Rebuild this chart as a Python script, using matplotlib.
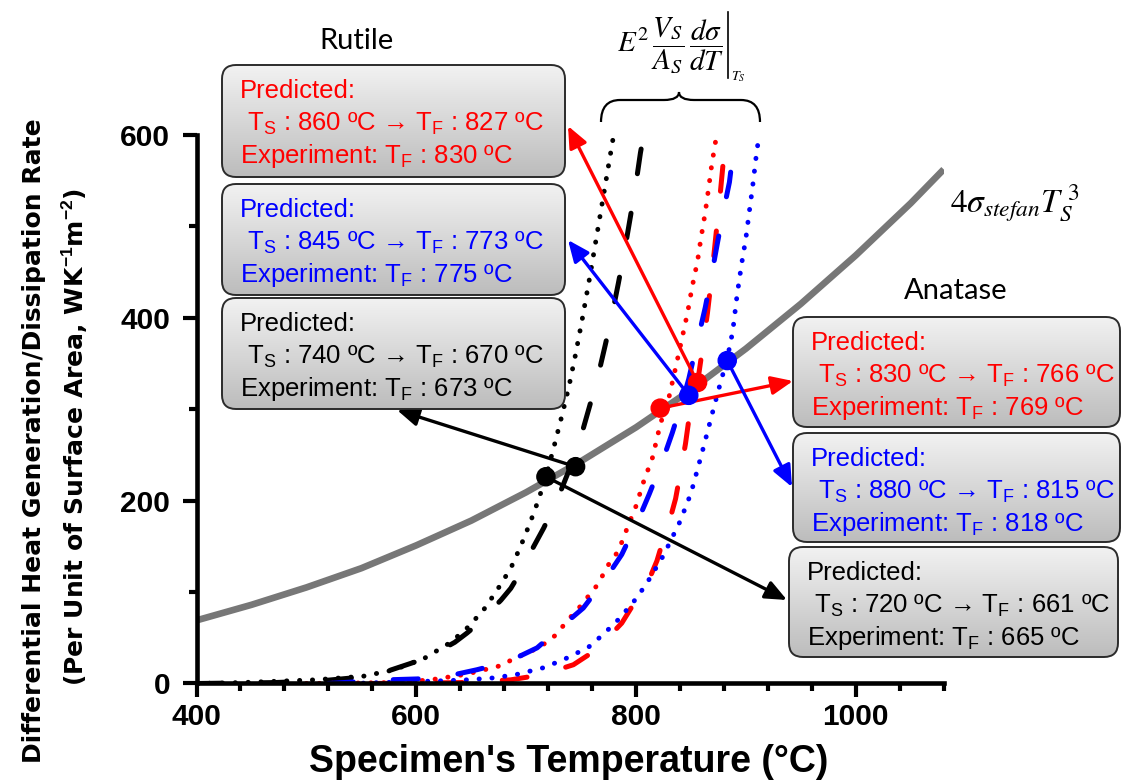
import matplotlib
matplotlib.use('Agg')
import matplotlib.pyplot as plt
import numpy as np
from matplotlib.patches import FancyBboxPatch, PathPatch
from matplotlib.path import Path
from matplotlib.colors import LinearSegmentedColormap
from matplotlib.ticker import MultipleLocator

plt.rcParams['font.family'] = ['Liberation Sans', 'DejaVu Sans']
plt.rcParams['mathtext.fontset'] = 'custom'
plt.rcParams['mathtext.rm'] = 'Liberation Sans'
plt.rcParams['mathtext.it'] = 'Liberation Sans:italic'
plt.rcParams['mathtext.bf'] = 'Liberation Sans:bold'

# ---- data ----
grey_x = [400, 450, 500, 550, 600, 650, 700, 750, 800, 850, 900, 950, 1000, 1050, 1080]
grey_y = [69, 86, 105, 126, 151, 178, 209, 243, 280, 321, 366, 415, 468, 525, 562]

# anatase = dotted, rutile = dashed
blk_dot_x = [400, 440, 508, 552, 580, 608, 630, 645, 661, 673, 686, 695, 704, 711, 718,
             726, 733, 739, 745, 751, 758, 765, 772, 779, 780]
blk_dot_y = [0, 1, 4, 8, 15, 28, 44, 59, 80, 101, 126, 150, 177, 200, 226,
             262, 295, 325, 360, 398, 445, 495, 545, 595, 600]

blk_dash_x = [400, 470, 514, 550, 575, 600, 617, 635, 646, 657, 667, 677, 686, 694, 702,
              716, 728, 739, 748, 757, 765, 772, 778, 784, 790, 795, 800, 804, 807]
blk_dash_y = [0, 1, 3, 7, 14, 24, 33, 45, 55, 66, 79, 91, 104, 120, 139,
              170, 200, 233, 262, 300, 334, 370, 402, 438, 476, 511, 547, 580, 600]

red_dot_x = [500, 580, 613, 645, 667, 680, 689, 701, 715, 727, 737, 749, 765, 775, 784, 792,
             800, 807, 815, 822, 830, 836, 842, 847, 851, 856, 859, 863, 866, 869, 873, 874]
red_dot_y = [0, 1, 4, 10, 16.5, 20.5, 28, 33, 42, 53, 68, 84, 108, 130, 145, 170,
             194, 221, 247, 283, 313, 345, 378, 406, 433, 462, 486, 515, 541, 568, 597, 600]

red_dash_x = [560, 640, 686, 714, 743, 764, 787, 803, 812, 819, 825, 831, 836, 840, 845,
              848, 852, 856, 860, 865, 868, 871, 874, 877, 880, 882]
red_dash_y = [0, 1, 4, 9.5, 20.5, 37, 66, 97, 114, 134, 158, 180, 202, 228, 262,
              288, 305, 329, 362, 405, 436, 470, 505, 540, 578, 600]

blu_dash_x = [520, 573, 601, 634, 655, 684, 710, 731, 752, 772, 787, 801, 812, 824, 833,
              844, 848, 857, 863, 869, 874, 880, 885, 889, 892]
blu_dash_y = [0, 4, 5, 9.5, 15, 24, 39, 61, 82.5, 114, 141, 176, 207, 243, 274,
              316, 333, 380, 411, 448, 481, 519, 548, 587, 600]

blu_dot_x = [540, 625, 646, 669, 690, 715, 734, 743, 756, 763, 781, 797, 809, 825, 840,
             850, 860, 865, 870, 876, 883, 888, 892, 896, 900, 903, 906, 909, 912]
blu_dot_y = [0, 3, 4, 6, 9.5, 17, 26, 31.5, 39, 46, 66, 88, 108, 140, 177,
             208, 252, 275, 298, 325, 355, 385, 425, 458, 487, 515, 542, 573, 600]

# intersection markers (Ts on the radiation curve)
mark_x = [856, 848, 745, 822, 883, 718]
mark_y = [329, 315, 237, 301, 353, 226]
mark_c = ['red', 'blue', 'black', 'red', 'blue', 'black']

box_ts = ['860', '845', '740', '830', '880', '720']
box_tf = ['827', '773', '670', '766', '815', '661']
box_exp = ['830', '775', '673', '769', '818', '665']

fig = plt.figure(figsize=(11.27, 7.84), dpi=100)
ax = fig.add_axes([0.17436, 0.12819, 0.66300, 0.70013])

ax.plot(grey_x, grey_y, color='#777777', lw=4.8, zorder=1.5, solid_capstyle='butt')

dot = dict(lw=3.5, linestyle=(0, (0.05, 2.6)), dash_capstyle='round', zorder=2)
dash = dict(lw=3.6, linestyle=(0, (5, 8)), dash_capstyle='round', zorder=2)
ax.plot(blk_dot_x, blk_dot_y, color='black', **dot)
ax.plot(blk_dash_x, blk_dash_y, color='black', **dash)
ax.plot(red_dot_x, red_dot_y, color='red', **dot)
ax.plot(red_dash_x, red_dash_y, color='red', **dash)
ax.plot(blu_dash_x, blu_dash_y, color='blue', **dash)
ax.plot(blu_dot_x, blu_dot_y, color='blue', **dot)

ax.set_xlim(400, 1080)
ax.set_ylim(0, 600)
for s in ['top', 'right']:
    ax.spines[s].set_visible(False)
for s in ['left', 'bottom']:
    ax.spines[s].set_linewidth(3.3)
ax.set_xticks([400, 600, 800, 1000])
ax.set_yticks([0, 200, 400, 600])
ax.xaxis.set_minor_locator(MultipleLocator(40))
ax.yaxis.set_minor_locator(MultipleLocator(100))
ax.tick_params(which='major', direction='out', length=10, width=3)
ax.tick_params(which='minor', direction='out', length=6, width=3)
ax.tick_params(axis='x', which='major', pad=4)
ax.tick_params(axis='y', which='major', pad=9)
for lab in ax.get_xticklabels() + ax.get_yticklabels():
    lab.set_fontsize(21.5)
    lab.set_fontweight('bold')

# overlay in figure pixels for boxes and labels
ov = fig.add_axes([0, 0, 1, 1], zorder=5)
ov.axis('off')

gcm = LinearSegmentedColormap.from_list('g', ['#f2f2f2', '#bcbcbc'])
boxes = [(222, 65, 565, 177), (222, 184, 565, 295), (222, 298, 565, 409),
         (793, 317, 1120, 427), (793, 433, 1120, 542), (789, 547, 1118, 657)]
tips = [(568, 126), (568, 240), (397, 410), (793, 381), (792, 487), (787, 600)]

for i, (x0, y0, x1, y1) in enumerate(boxes):
    c = mark_c[i]
    bp = FancyBboxPatch((x0, y0), x1 - x0, y1 - y0,
                        boxstyle='round,pad=0,rounding_size=14',
                        fc='none', ec='#2b2b2b', lw=1.4, zorder=3)
    ov.add_patch(bp)
    im = ov.imshow(np.linspace(0, 1, 256).reshape(-1, 1), cmap=gcm,
                   extent=(x0, x1, y1, y0), aspect='auto', zorder=2)
    im.set_clip_path(bp)
    tx = x0 + 18
    ov.text(tx, y0 + 33, 'Predicted:', color=c, fontsize=18.5, va='baseline', zorder=4)
    ov.text(tx, y0 + 66, r' $\mathrm{T}_\mathrm{S}$ : %s ºC → $\mathrm{T}_\mathrm{F}$ : %s ºC'
            % (box_ts[i], box_tf[i]), color=c, fontsize=18.5, va='baseline', zorder=4)
    ov.text(tx, y0 + 98, r'Experiment: $\mathrm{T}_\mathrm{F}$ : %s ºC' % box_exp[i],
            color=c, fontsize=18.5, va='baseline', zorder=4)

    ax.annotate('', xy=tips[i], xycoords=ov.transData,
                xytext=(mark_x[i], mark_y[i]), textcoords='data',
                arrowprops=dict(arrowstyle='-|>,head_length=0.65,head_width=0.28',
                                color=c, lw=2.4, shrinkA=0, shrinkB=0,
                                mutation_scale=20),
                annotation_clip=False, zorder=4)

ax.scatter(mark_x, mark_y, s=170, c=mark_c, zorder=5, clip_on=False)

ov.text(357, 49, 'Rutile', fontsize=21, family='Lato', ha='center', va='baseline')
ov.text(956, 299, 'Anatase', fontsize=21, family='Lato', ha='center', va='baseline')

# formula with brace
ov.text(617, 45, r'$E^2\,\dfrac{V_S}{A_S}\,\dfrac{d\sigma}{dT}$', math_fontfamily='stix',
        fontsize=21, ha='left', va='center')
ov.plot([728, 728], [12, 78], color='black', lw=1.2)
ov.text(731, 80, r'$T_S$', math_fontfamily='stix', fontsize=10, ha='left', va='baseline')
brace = Path([(601, 122), (601, 100), (620, 100), (664, 100), (679, 100), (679, 92),
              (679, 100), (694, 100), (741, 100), (760, 100), (760, 122)],
             [Path.MOVETO, Path.CURVE3, Path.CURVE3, Path.LINETO, Path.CURVE3, Path.CURVE3,
              Path.CURVE3, Path.CURVE3, Path.LINETO, Path.CURVE3, Path.CURVE3])
ov.add_patch(PathPatch(brace, fc='none', ec='black', lw=1.6))

ov.text(950, 212, r'$4\sigma_{stefan}T_S^{\;3}$', math_fontfamily='stix', fontsize=24,
        ha='left', va='baseline')

# axis titles
ov.text(569, 772, "Specimen's Temperature (°C)", fontsize=27, fontweight='bold',
        ha='center', va='baseline')
ov.text(34, 441, 'Differential Heat Generation/Dissipation Rate', rotation=90,
        fontsize=18, fontweight='bold', family='DejaVu Sans', ha='center', va='center')
ov.text(75, 437, r'(Per Unit of Surface Area, WK$^{\mathbf{-1}}$m$^{\mathbf{-2}}$)',
        rotation=90, fontsize=18, fontweight='bold', family='DejaVu Sans',
        ha='center', va='center')

ov.set_xlim(0, 1127)
ov.set_ylim(784, 0)

fig.savefig('out.png', dpi=100, facecolor='white')
